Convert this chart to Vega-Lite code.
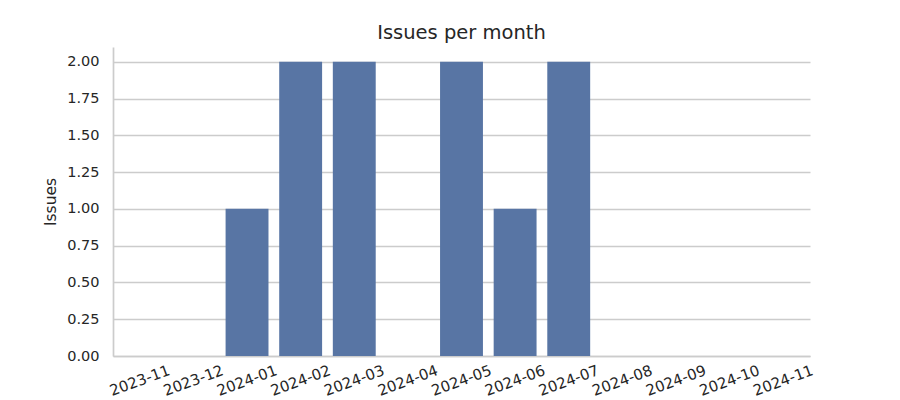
{
  "$schema": "https://vega.github.io/schema/vega-lite/v6.json",
  "width": 697,
  "height": 309,
  "autosize": {"type": "none"},
  "padding": {"left": 113, "top": 47, "right": 90, "bottom": 44},
  "background": "white",
  "title": {
    "text": "Issues per month",
    "font": "DejaVu Sans",
    "fontSize": 19.5,
    "fontWeight": "normal",
    "color": "#262626",
    "frame": "group",
    "offset": 8,
    "dy": 23,
    "anchor": "middle",
    "baseline": "bottom"
  },
  "data": {
    "values": [
      {"month": "2023-11", "issues": 0},
      {"month": "2023-12", "issues": 0},
      {"month": "2024-01", "issues": 1},
      {"month": "2024-02", "issues": 2},
      {"month": "2024-03", "issues": 2},
      {"month": "2024-04", "issues": 0},
      {"month": "2024-05", "issues": 2},
      {"month": "2024-06", "issues": 1},
      {"month": "2024-07", "issues": 2},
      {"month": "2024-08", "issues": 0},
      {"month": "2024-09", "issues": 0},
      {"month": "2024-10", "issues": 0},
      {"month": "2024-11", "issues": 0}
    ]
  },
  "mark": {"type": "bar", "color": "#5875a4"},
  "encoding": {
    "x": {
      "field": "month",
      "type": "ordinal",
      "sort": null,
      "scale": {"paddingInner": 0.2, "paddingOuter": 0.1},
      "axis": {
        "title": null,
        "labelAngle": -20,
        "labelAlign": "center",
        "labelBaseline": "middle",
        "labelPadding": 24,
        "labelFont": "DejaVu Sans",
        "labelFontSize": 15,
        "labelColor": "#262626",
        "ticks": false,
        "domainColor": "#cccccc",
        "domainWidth": 1.7,
        "grid": false
      }
    },
    "y": {
      "field": "issues",
      "type": "quantitative",
      "scale": {"domain": [0, 2.1], "nice": false},
      "axis": {
        "title": "Issues",
        "titleFont": "DejaVu Sans",
        "titleFontSize": 15.5,
        "titleFontWeight": "normal",
        "titleColor": "#262626",
        "titlePadding": 8,
        "values": [0, 0.25, 0.5, 0.75, 1, 1.25, 1.5, 1.75, 2],
        "format": ".2f",
        "labelFont": "DejaVu Sans",
        "labelFontSize": 14.5,
        "labelColor": "#262626",
        "labelPadding": 14,
        "ticks": false,
        "domainColor": "#cccccc",
        "domainWidth": 1.7,
        "gridColor": "#cccccc",
        "gridWidth": 1.4
      }
    }
  },
  "config": {
    "view": {"stroke": null}
  }
}
